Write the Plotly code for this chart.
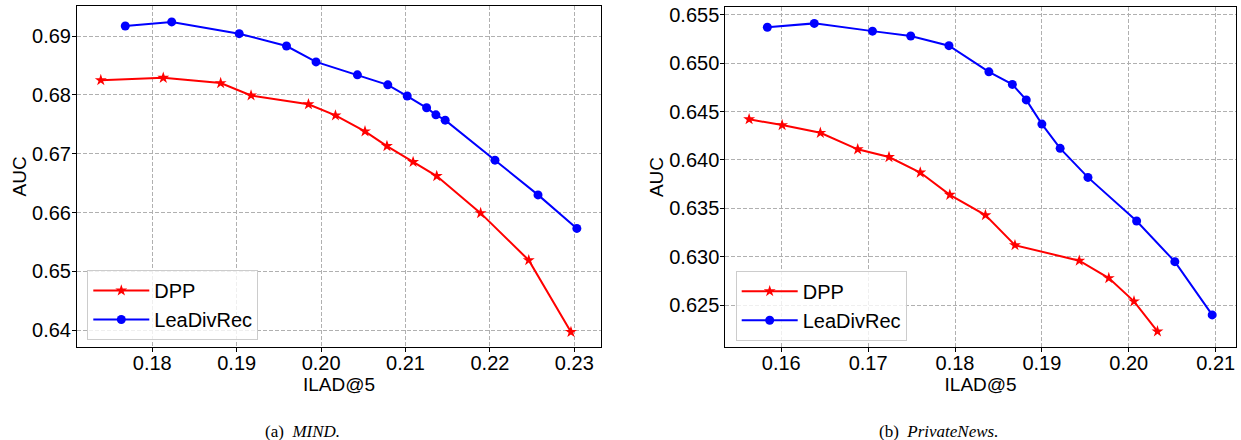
import plotly.graph_objects as go

# ---------- data ----------
# (a) MIND
mind_dpp_x = [0.1739, 0.1813, 0.1881, 0.1917, 0.1985, 0.2017, 0.2052, 0.2078,
              0.2109, 0.2137, 0.2189, 0.2246, 0.2296]
mind_dpp_y = [0.6825, 0.6829, 0.6820, 0.6799, 0.6784, 0.6765, 0.6738, 0.6713,
              0.6686, 0.6662, 0.6599, 0.6519, 0.6397]
mind_lea_x = [0.1768, 0.1823, 0.1903, 0.1959, 0.1994, 0.2043, 0.2079, 0.2102,
              0.2125, 0.2136, 0.2147, 0.2206, 0.2257, 0.2303]
mind_lea_y = [0.6917, 0.6924, 0.6904, 0.6883, 0.6856, 0.6834, 0.6817, 0.6798,
              0.6778, 0.6766, 0.6757, 0.6689, 0.6630, 0.6573]

# (b) PrivateNews
pn_dpp_x = [0.1563, 0.1601, 0.1645, 0.1688, 0.1724, 0.1760, 0.1794, 0.1835,
            0.1869, 0.1943, 0.1977, 0.2006, 0.2033]
pn_dpp_y = [0.6442, 0.6436, 0.6428, 0.6411, 0.6403, 0.6387, 0.6364, 0.6343,
            0.6312, 0.6296, 0.6278, 0.6254, 0.6223]
pn_lea_x = [0.1584, 0.1638, 0.1705, 0.1749, 0.1793, 0.1839, 0.1866, 0.1882,
            0.1900, 0.1921, 0.1953, 0.2009, 0.2053, 0.2096]
pn_lea_y = [0.6537, 0.6541, 0.6533, 0.6528, 0.6518, 0.6491, 0.6478, 0.6462,
            0.6437, 0.6412, 0.6382, 0.6337, 0.6295, 0.6240]

series_names = ["DPP", "LeaDivRec"]
x_ticks_a = [0.18, 0.19, 0.20, 0.21, 0.22, 0.23]
x_tick_text_a = ["0.18", "0.19", "0.20", "0.21", "0.22", "0.23"]
y_ticks_a = [0.64, 0.65, 0.66, 0.67, 0.68, 0.69]
y_tick_text_a = ["0.64", "0.65", "0.66", "0.67", "0.68", "0.69"]
x_ticks_b = [0.16, 0.17, 0.18, 0.19, 0.20, 0.21]
x_tick_text_b = ["0.16", "0.17", "0.18", "0.19", "0.20", "0.21"]
y_ticks_b = [0.625, 0.630, 0.635, 0.640, 0.645, 0.650, 0.655]
y_tick_text_b = ["0.625", "0.630", "0.635", "0.640", "0.645", "0.650", "0.655"]
captions = ["(a)  <i>MIND.</i>", "(b)  <i>PrivateNews.</i>"]

W, H = 1241, 440
RED, BLUE = "#ff0000", "#0000ff"
SANS = "Liberation Sans, Arial, sans-serif"
SERIF = "Liberation Serif, DejaVu Serif, serif"

fig = go.Figure()

def add_pair(dx, dy, lx, ly, xa, ya, leg):
    fig.add_trace(go.Scatter(
        x=dx, y=dy, mode="lines+markers", name=series_names[0],
        line=dict(color=RED, width=2),
        marker=dict(symbol="star", size=9, color=RED),
        xaxis=xa, yaxis=ya, legend=leg))
    fig.add_trace(go.Scatter(
        x=lx, y=ly, mode="lines+markers", name=series_names[1],
        line=dict(color=BLUE, width=2),
        marker=dict(symbol="circle", size=9, color=BLUE),
        xaxis=xa, yaxis=ya, legend=leg))

add_pair(mind_dpp_x, mind_dpp_y, mind_lea_x, mind_lea_y, "x", "y", "legend")
add_pair(pn_dpp_x, pn_dpp_y, pn_lea_x, pn_lea_y, "x2", "y2", "legend2")

def axis_common():
    return dict(
        showline=True, linecolor="#000000", linewidth=1, mirror=True,
        ticks="outside", ticklen=4, tickcolor="#000000", tickwidth=1,
        showgrid=True, gridcolor="#b0b0b0", gridwidth=1, griddash="4px,2px",
        zeroline=False, tickfont=dict(family=SANS, size=20, color="#000000"),
        automargin=False,
    )

def legend_common(x, y):
    return dict(x=x, y=y, xanchor="left", yanchor="top",
                bgcolor="rgba(255,255,255,0.8)", bordercolor="#cccccc", borderwidth=1,
                font=dict(family=SANS, size=20, color="#000000"),
                tracegroupgap=0, itemwidth=56)

fig.update_layout(
    width=W, height=H,
    margin=dict(l=0, r=0, t=0, b=0),
    paper_bgcolor="white", plot_bgcolor="white",
    font=dict(family=SANS, size=19, color="#000000"),
    xaxis=dict(axis_common(), domain=[77 / W, 601 / W], range=[0.17108, 0.23316],
               tickvals=x_ticks_a, ticktext=x_tick_text_a, anchor="y", ticklabelstandoff=-6,
               title=dict(text="ILAD@5", standoff=2, font=dict(size=19))),
    yaxis=dict(axis_common(), domain=[1 - 346.7 / H, 1 - 6 / H], range=[0.6372, 0.6951],
               tickvals=y_ticks_a, ticktext=y_tick_text_a, anchor="x", ticklabelstandoff=-3,
               title=dict(text="AUC", standoff=0, font=dict(size=19))),
    xaxis2=dict(axis_common(), domain=[725.3 / W, 1236 / W], range=[0.15356, 0.21234],
                tickvals=x_ticks_b, ticktext=x_tick_text_b, anchor="y2", ticklabelstandoff=-6,
                title=dict(text="ILAD@5", standoff=2, font=dict(size=19))),
    yaxis2=dict(axis_common(), domain=[1 - 346.7 / H, 1 - 7.3 / H], range=[0.62072, 0.65576],
                tickvals=y_ticks_b, ticktext=y_tick_text_b, anchor="x2", ticklabelstandoff=-3,
                title=dict(text="AUC", standoff=0, font=dict(size=19))),
    legend=legend_common(87.3 / W, 1 - 270 / H),
    legend2=legend_common(735.7 / W, 1 - 270.7 / H),
)

fig.add_annotation(text=captions[0], x=302 / W, y=1 - 431 / H, xref="paper", yref="paper",
                   showarrow=False, xanchor="center", yanchor="middle",
                   font=dict(family=SERIF, size=17, color="#000000"))
fig.add_annotation(text=captions[1], x=938 / W, y=1 - 431 / H, xref="paper", yref="paper",
                   showarrow=False, xanchor="center", yanchor="middle",
                   font=dict(family=SERIF, size=17, color="#000000"))

fig.write_html("out.html", config={"displayModeBar": False},
               post_script="document.body.style.margin='0';")
